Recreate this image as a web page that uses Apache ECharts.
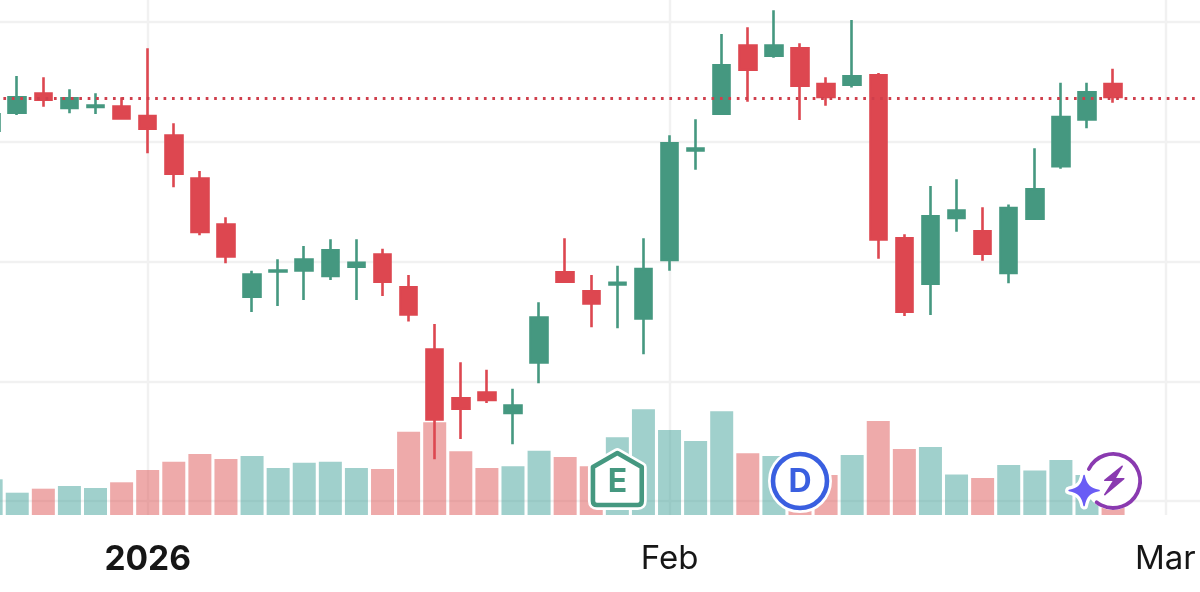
<!DOCTYPE html>
<html>
<head>
<meta charset="utf-8">
<style>html,body{margin:0;padding:0;background:#fff}#chart{width:1200px;height:592px}</style>
<script src="https://cdn.jsdelivr.net/npm/echarts@6/dist/echarts.min.js"></script>
</head>
<body>
<div id="chart"></div>
<script>
// Trading days on the time axis
const dates = [
  '2025-12-23','2025-12-24','2025-12-26','2025-12-29','2025-12-30','2025-12-31',
  '2026-01-02','2026-01-05','2026-01-06','2026-01-07','2026-01-08','2026-01-09',
  '2026-01-12','2026-01-13','2026-01-14','2026-01-15','2026-01-16','2026-01-20',
  '2026-01-21','2026-01-22','2026-01-23','2026-01-26','2026-01-27','2026-01-28',
  '2026-01-29','2026-01-30','2026-02-02','2026-02-03','2026-02-04','2026-02-05',
  '2026-02-06','2026-02-09','2026-02-10','2026-02-11','2026-02-12','2026-02-13',
  '2026-02-17','2026-02-18','2026-02-19','2026-02-20','2026-02-23','2026-02-24',
  '2026-02-25','2026-02-26','2026-02-27','2026-03-02','2026-03-03','2026-03-04'
];

// Daily prices per session
const opens = [170.82,172.32,174.13,172.71,172.80,173.05,172.26,170.62,167.03,163.19,
  156.95,159.07,159.15,158.68,159.46,160.69,157.96,152.75,148.69,149.16,
  147.24,151.47,159.21,157.62,157.98,155.14,160.02,169.17,172.24,178.14,
  177.08,177.92,174.93,174.66,175.66,162.05,158.04,163.53,162.63,158.93,
  163.47,167.84,171.76,174.93];
const closes = [172.40,173.82,173.41,173.74,173.13,171.84,170.98,167.23,162.36,160.32,
  159.02,159.35,160.27,161.05,159.99,158.21,155.48,146.71,147.60,148.33,
  148.08,155.43,158.21,156.39,158.32,159.48,169.98,169.54,176.50,175.91,
  178.14,174.57,173.63,175.58,161.74,155.70,163.89,164.36,160.54,164.58,
  166.14,172.18,174.24,173.63];
const lows = [170.48,172.24,172.93,172.38,172.32,171.84,169.04,166.20,162.19,159.85,
  155.78,156.29,156.79,158.46,156.79,157.12,154.98,143.48,145.18,148.19,
  144.74,149.83,158.21,154.51,154.42,152.25,159.23,167.67,172.24,173.35,
  177.02,171.82,173.01,174.52,160.24,155.45,155.53,162.49,160.07,158.18,
  163.47,167.75,171.13,173.26];
const highs = [172.82,175.49,175.38,174.38,174.05,173.71,177.81,171.54,167.56,163.69,
  159.23,160.19,161.30,161.86,161.86,161.07,158.87,154.78,151.58,150.97,
  149.38,156.60,161.94,158.87,159.65,161.94,170.54,171.88,179.00,179.56,
  180.98,178.22,175.38,180.17,175.74,162.27,166.31,166.87,164.53,164.75,
  169.46,174.93,174.93,176.10];

// Shares traded per session, in millions
const volumes = [6.93,4.33,5.11,5.63,5.24,6.35,8.74,10.35,11.84,10.87,
  11.46,9.13,10.16,10.35,9.13,8.93,16.17,18.00,12.37,9.13,
  9.46,12.49,11.26,9.46,15.09,20.52,16.50,14.37,20.14,11.98,
  11.46,6.80,7.77,11.65,18.25,12.82,13.20,7.86,7.18,9.71,
  8.64,10.68,7.77,4.85];

// Session labels shown along the time axis
const tickLabels = {'2026-01-02':'{year|2026}', '2026-02-02':'Feb', '2026-03-02':'Mar'};

// Calendar events pinned above the volume bars
const events = [
  {date:'2026-01-29', kind:'earnings'},
  {date:'2026-02-09', kind:'dividend'},
  {date:'2026-02-26', kind:'flash'}
];

const UP = '#459880', DOWN = '#dd4750';
const UP_VOL = 'rgba(65,161,153,0.5)', DOWN_VOL = 'rgba(221,85,85,0.5)';
const GRID_LINE = '#f1f1f1';
const CANDLE_STROKE = 2.6;
const UNITS_PER_PX = 10 / 119.75;

// The body outline straddles the open and close, so pull the rectangle in by half a stroke.
const inset = CANDLE_STROKE / 2 * UNITS_PER_PX;
const candleData = opens.map((o, i) => {
  const c = closes[i];
  const s = c >= o ? 1 : -1;
  return [o + s * inset, c - s * inset, lows[i], highs[i]];
});
const volumeData = volumes.map((v, i) => ({
  value: v,
  itemStyle: {color: closes[i] >= opens[i] ? UP_VOL : DOWN_VOL}
}));
const lastClose = closes[closes.length - 1];

const isLabelled = (i, v) => Object.prototype.hasOwnProperty.call(tickLabels, v);

// Paths for the event badges, centred on the origin
const HOUSE = 'M0 -28 L24.4 -14 L24.4 20 Q24.4 24 20.4 24 L-20.4 24 Q-24.4 24 -24.4 20 L-24.4 -14 Z';
const RING = 'M-24.2 -12 A27 27 0 1 1 -16.5 21.3';
const BOLT = 'M9 -14.7 L-8.3 -0.7 L1 -0.7 L-8.3 13.7 L10.7 -2.3 L1.7 -2.3 Z';
const STAR = 'M0 -15 C1.8 -5.5 5.5 -1.8 15 0 C5.5 1.8 1.8 5.5 0 15 C-1.8 5.5 -5.5 1.8 -15 0 C-5.5 -1.8 -1.8 -5.5 0 -15 Z';
const BADGE_FONT = 'Inter, "Noto Sans", sans-serif';

function badgeLetter(text, color) {
  return {type:'text', style:{text, x:0, y:1, fill:color, fontSize:32, fontWeight:700,
    fontFamily:BADGE_FONT, align:'center', verticalAlign:'middle'}};
}

function renderBadge(params, api) {
  const kind = events[params.dataIndex].kind;
  const base = api.coord([api.value(0), 0]);
  const children = [];
  if (kind === 'earnings') {
    children.push(
      {type:'path', shape:{pathData:HOUSE}, style:{fill:'#fff', stroke:'#fff', lineWidth:10, lineJoin:'round'}},
      {type:'path', shape:{pathData:HOUSE}, style:{fill:'#fff', stroke:UP, lineWidth:4.6, lineJoin:'round'}},
      badgeLetter('E', UP)
    );
  } else if (kind === 'dividend') {
    children.push(
      {type:'circle', shape:{cx:0, cy:0, r:27}, style:{fill:'#fff', stroke:'#fff', lineWidth:10}},
      {type:'circle', shape:{cx:0, cy:0, r:27}, style:{fill:'#fff', stroke:'#3a5fe0', lineWidth:4.6}},
      badgeLetter('D', '#3a5fe0')
    );
  } else {
    children.push(
      {type:'circle', shape:{cx:0, cy:0, r:29}, style:{fill:'#fff'}},
      {type:'path', shape:{pathData:RING}, style:{fill:'none', stroke:'#8a3ab0', lineWidth:3.8, lineCap:'round'}},
      {type:'path', shape:{pathData:BOLT}, style:{fill:'#8a3ab0', stroke:'#8a3ab0', lineWidth:1.6, lineJoin:'round'}},
      {type:'path', x:-29, y:9.5, shape:{pathData:STAR}, style:{fill:'#fff', stroke:'#fff', lineWidth:8, lineJoin:'round'}},
      {type:'path', x:-29, y:9.5, shape:{pathData:STAR}, style:{fill:'#6a5cf5', stroke:'#6a5cf5', lineWidth:1.5, lineJoin:'round'}}
    );
  }
  return {type:'group', x:base[0], y:base[1] - 34, children};
}

const chart = echarts.init(document.getElementById('chart'), null, {renderer:'canvas'});
chart.setOption({
  animation:false,
  backgroundColor:'#fff',
  grid:[
    {left:-21.9, width:1252.4, top:-97.75, height:718.5, outerBoundsMode:'none'},
    {left:-21.9, width:1252.4, top:0, height:515, outerBoundsMode:'none'}
  ],
  xAxis:[
    {type:'category', gridIndex:0, data:dates, show:false},
    {type:'category', gridIndex:1, data:dates,
      axisLine:{show:false}, axisTick:{show:false},
      splitLine:{show:true, interval:isLabelled, alignWithLabel:true, lineStyle:{color:GRID_LINE, width:2.4}},
      axisLabel:{
        interval:isLabelled, margin:28, color:'#161616', fontSize:33,
        fontFamily:'Inter, "Noto Sans", sans-serif',
        formatter:v => tickLabels[v] || '',
        rich:{year:{fontSize:33.5, fontWeight:700, color:'#161616', fontFamily:'Inter, "Noto Sans", sans-serif'}}
      }}
  ],
  yAxis:[
    {type:'value', gridIndex:0, min:130, max:190, interval:10, scale:true,
      axisLine:{show:false}, axisTick:{show:false}, axisLabel:{show:false},
      splitLine:{show:true, lineStyle:{color:GRID_LINE, width:2.4}}},
    {type:'value', gridIndex:1, min:0, max:100, show:false, splitLine:{show:false}}
  ],
  series:[
    {type:'bar', name:'Volume', xAxisIndex:1, yAxisIndex:1, data:volumeData,
      barWidth:23, z:2, silent:true},
    {type:'candlestick', name:'Price', xAxisIndex:0, yAxisIndex:0, data:candleData,
      barWidth:17, z:3, silent:true,
      itemStyle:{color:UP, color0:DOWN, borderColor:UP, borderColor0:DOWN, borderWidth:CANDLE_STROKE},
      markLine:{silent:true, symbol:'none', animation:false, z:4,
        label:{show:false}, emphasis:{disabled:true},
        lineStyle:{color:'#cf3f4c', type:[2.7,5.73], width:2.8},
        data:[{yAxis:lastClose}]}},
    {type:'custom', name:'Events', xAxisIndex:1, yAxisIndex:1, z:6, clip:false, silent:true,
      data:events.map(e => [e.date, 0]),
      encode:{x:0, y:1},
      renderItem:renderBadge}
  ]
});
</script>
</body>
</html>
